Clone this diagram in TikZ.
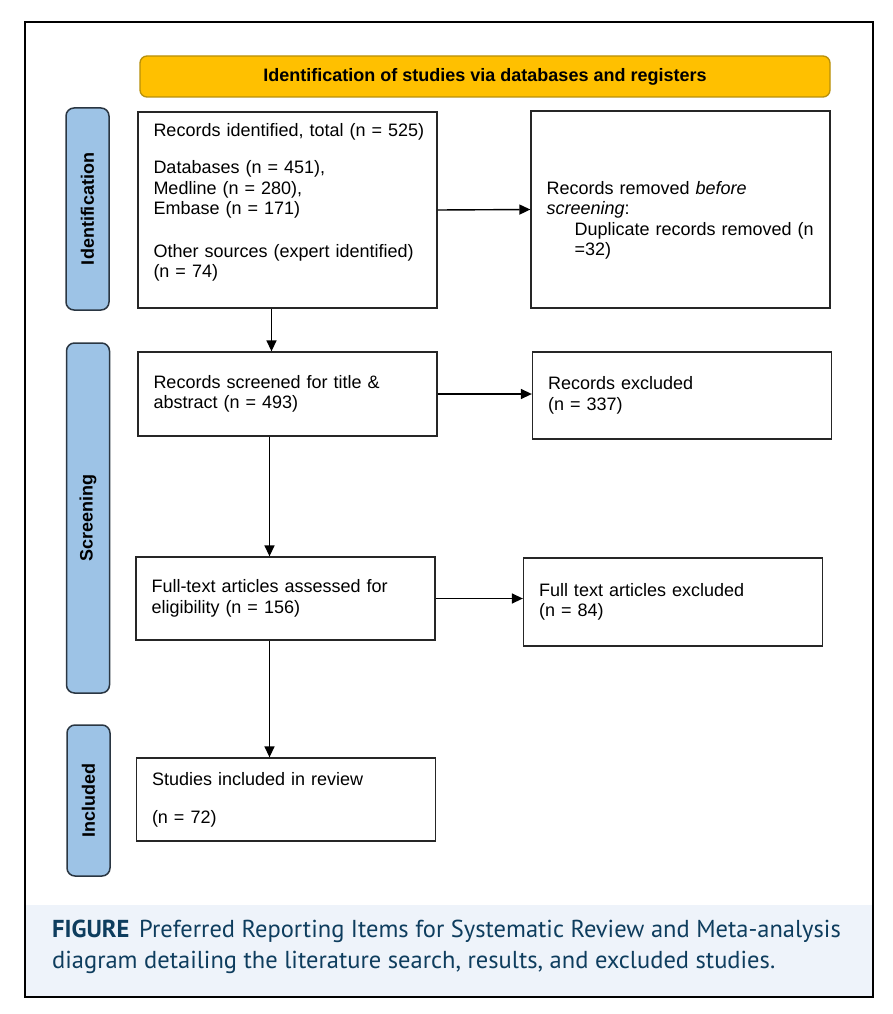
\documentclass[tikz,border=0pt]{standalone}
\usepackage{fontspec}
\setmainfont{Liberation Sans}
\newfontfamily\piefont{PT Sans}
\usetikzlibrary{arrows.meta}

\definecolor{amarillo}{HTML}{FFC000}
\definecolor{oro}{HTML}{B8900A}
\definecolor{azulfase}{HTML}{9DC3E6}
\definecolor{bordefase}{HTML}{2A3642}
\definecolor{fondopie}{HTML}{EEF3FA}
\definecolor{textopie}{HTML}{0E3D5E}

\begin{document}
\begin{tikzpicture}[x=1pt, y=-1pt,
    caja/.style={draw=black!85, line width=1.3pt, text width=268pt, inner xsep=15.5pt,
        align=left, font=\fontsize{18}{20.5}\selectfont},
    fase/.style={draw=bordefase, line width=1.5pt, fill=azulfase, rounded corners=8pt,
        minimum height=43pt, rotate=90, font=\bfseries\fontsize{18}{20}\selectfont},
    flecha/.style={black, line width=1.4pt, -{Triangle[length=11pt,width=10pt]}}]

    % Marco
    \useasboundingbox[fill=white] (0,0) rectangle (893,1014);
    \fill[fondopie] (26,905) rectangle (872,996);
    \draw[black, line width=2pt] (25,22) rectangle (873,997);

    % Banda superior
    \node[draw=oro, line width=1.3pt, fill=amarillo, rounded corners=7pt,
        minimum width=690pt, minimum height=41pt,
        font=\bfseries\fontsize{18}{20}\selectfont] (banda) at (485,76.5)
        {Identification of studies via databases and registers};

    % Fases
    \node[fase, minimum width=202pt] (ident) at (87.5,209) {Identification};
    \node[fase, minimum width=350pt] (cribado) at (88,518) {Screening};
    \node[fase, minimum width=151pt] (incl) at (88.5,800.5) {Included};

    % Cajas
    \node[caja, minimum height=196pt] (b1) at (287.5,210)
        {\mbox{Records identified, total (n = 525)}\\[17pt]
         Databases (n = 451),\\ Medline (n = 280),\\ Embase (n = 171)\\[22pt]
         \mbox{Other sources (expert identified)}\\ (n = 74)\\[-1pt]\mbox{}};
    \node[caja, minimum height=197pt] (b2) at (680.5,209.5)
        {\mbox{}\\[14pt]
         Records removed \textit{before}\\ \textit{screening}:\\
         \hspace*{28pt}\mbox{Duplicate records removed (n}\\ \hspace*{28pt}=32)};
    \node[caja, minimum height=84pt] (b3) at (287.5,394)
        {Records screened for title \&\\ abstract (n = 493)};
    \node[caja, minimum height=87pt] (b4) at (682,395.5)
        {Records excluded\\ (n = 337)};
    \node[caja, minimum height=83pt] (b5) at (285.5,598.5)
        {Full-text articles assessed for\\ eligibility (n = 156)};
    \node[caja, minimum height=88pt] (b6) at (673,602)
        {Full text articles excluded\\ (n = 84)};
    \node[caja, minimum height=83pt] (b7) at (286,799.5)
        {Studies included in review\\[17.5pt] (n = 72)};

    % Flechas
    \draw[flecha] (b1.east) -- (b2.west);
    \draw[flecha] ([xshift=-16pt]b1.south) -- ([xshift=-16pt]b3.north);
    \draw[flecha] (b3.east) -- (b3.east -| b4.west);
    \draw[flecha] ([xshift=-18pt]b3.south) -- ([xshift=-16pt]b5.north);
    \draw[flecha] (b5.east) -- (b5.east -| b6.west);
    \draw[flecha] ([xshift=-16pt]b5.south) -- ([xshift=-16.5pt]b7.north);

    % Pie de figura
    \node[anchor=north west, align=left, inner sep=0pt, text=textopie,
        font=\piefont\fontsize{24.5}{31}\selectfont] (pie) at (52,920)
        {\textbf{FIGURE}\hspace{0.4em}Preferred Reporting Items for Systematic Review and Meta-analysis\\
         diagram detailing the literature search, results, and excluded studies.};
\end{tikzpicture}
\end{document}
